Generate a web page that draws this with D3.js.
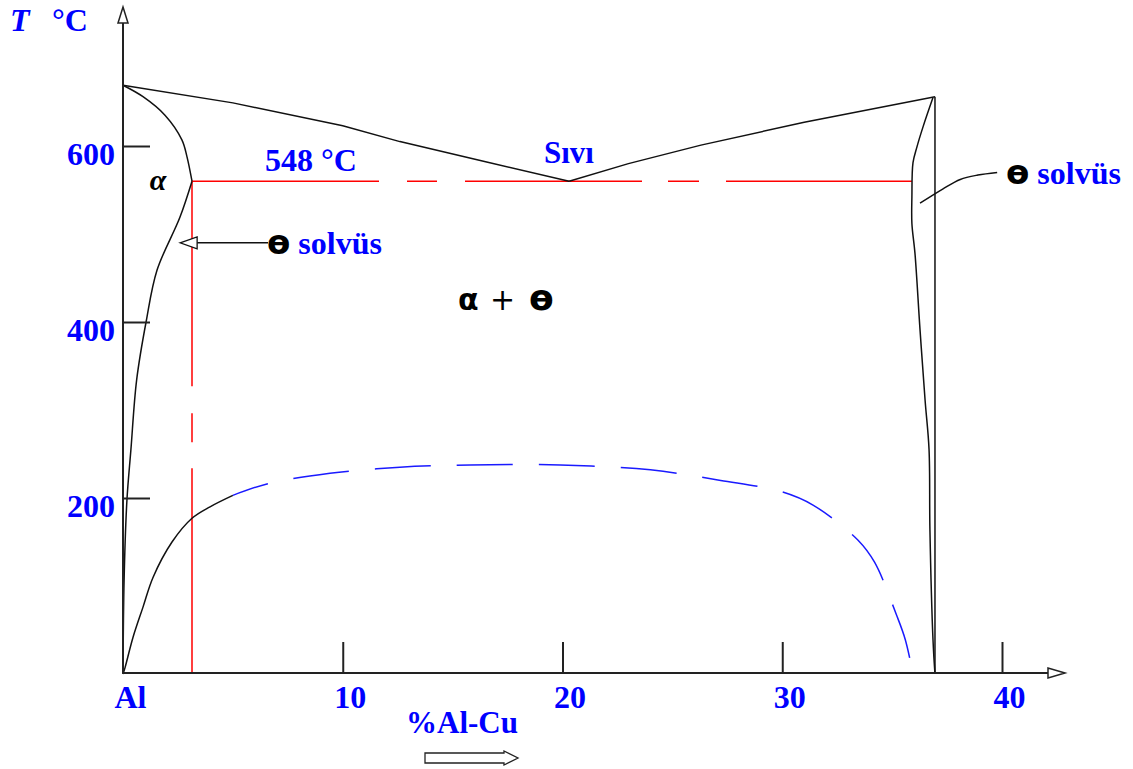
<!DOCTYPE html>
<html>
<head>
<meta charset="utf-8">
<script src="https://cdn.jsdelivr.net/npm/d3@7"></script>
<style>
  body { margin: 0; background: #fff; }
  .blue { fill: #0000ff; font-family: "Liberation Serif", serif; font-weight: bold; }
  .greek { fill: #000; font-family: "DejaVu Sans", sans-serif; font-weight: bold; }
</style>
</head>
<body>
<svg id="chart" width="1133" height="769"></svg>
<script>
// composition in % Cu, temperature in °C
const xTicks = [0, 10, 20, 30, 40];
const xTickLabels = ["Al", "10", "20", "30", "40"];
const yTicks = [200, 400, 600];

const liquidusAlpha = [[0, 669], [5, 649], [10, 623], [12.6, 605], [16.5, 582], [20.3, 560]];
const liquidusTheta = [[20.3, 560], [23, 580], [26.3, 601], [31, 627], [36.95, 656]];
const solidusAlpha = [[0, 669], [0.91, 656], [1.91, 635], [2.68, 607], [2.91, 588], [3.14, 560]];
const solvusAlpha = [[3.14, 560], [2.59, 519], [1.55, 459], [1.05, 400], [0.62, 334], [0.36, 255], [0.18, 198], [0.05, 107], [0, 0]];
const thetaSolvus = [[36.86, 655], [36.41, 622], [36.13, 599], [35.95, 581], [35.9, 542], [35.9, 512], [36.04, 478], [36.27, 391], [36.5, 311], [36.68, 255], [36.72, 164], [36.86, 39], [36.95, 0]];
const thetaBoundary = [[36.95, 656], [36.95, 0]];
const gpSolid = [[0, 0], [0.09, 7], [0.46, 42], [0.91, 76], [1.37, 110], [2.23, 150], [3.14, 177], [3.96, 190], [5.0, 203]];
const gpDashed = [[5.0, 203], [6.55, 216], [9.42, 228], [12.6, 235], [15.8, 237.5], [19.9, 237.5], [24.0, 232], [27.2, 220], [30.0, 207], [31.4, 192], [33.45, 152], [34.2, 127], [35.2, 67], [35.6, 39], [35.95, 0]];
const eutecticT = 560;
const eutecticStart = 3.14;
const eutecticEnd = 35.9;

const svg = d3.select("#chart");
const x = d3.scaleLinear().domain([0, 40]).range([123, 1002]);
const y = d3.scaleLinear().domain([0, 600]).range([674, 146]);

const line = d3.line().x(d => x(d[0])).y(d => y(d[1]));
const smooth = d3.line().x(d => x(d[0])).y(d => y(d[1])).curve(d3.curveCatmullRom);

// red eutectic lines
svg.append("line")
    .attr("x1", x(eutecticStart)).attr("x2", x(eutecticEnd))
    .attr("y1", y(eutecticT)).attr("y2", y(eutecticT))
    .attr("stroke", "#ff0000").attr("stroke-width", 1.5)
    .attr("stroke-dasharray", "187,28,30,28,177,26,31,27,200");
svg.append("line")
    .attr("x1", x(eutecticStart)).attr("x2", x(eutecticStart))
    .attr("y1", y(eutecticT)).attr("y2", y(0))
    .attr("stroke", "#ff0000").attr("stroke-width", 1.5)
    .attr("stroke-dasharray", "205,27,29,26,220");

// phase boundaries
[liquidusAlpha, liquidusTheta, thetaBoundary].forEach(d => {
    svg.append("path").attr("d", line(d))
        .attr("fill", "none").attr("stroke", "#111").attr("stroke-width", 1.5);
});
[solidusAlpha, solvusAlpha, thetaSolvus, gpSolid].forEach(d => {
    svg.append("path").attr("d", smooth(d))
        .attr("fill", "none").attr("stroke", "#111").attr("stroke-width", 1.5);
});
svg.append("path").attr("d", smooth(gpDashed))
    .attr("fill", "none").attr("stroke", "#1a1aff").attr("stroke-width", 1.5)
    .attr("stroke-dasharray", "56,26").attr("stroke-dashoffset", 19);

// axes
const xAxis = svg.append("g")
    .attr("transform", `translate(0,${y(0) - 1})`)
    .call(d3.axisBottom(x).tickValues(xTicks).tickSizeInner(-31).tickSizeOuter(0)
        .tickFormat((d, i) => xTickLabels[i]));
xAxis.select(".domain").remove();
xAxis.selectAll(".tick line").attr("stroke", "#222").attr("stroke-width", 2);
xAxis.selectAll(".tick text").attr("class", "blue").attr("font-size", 32)
    .attr("y", 35).attr("dy", null).attr("x", 7);
xAxis.selectAll(".tick").filter(d => d === 0).select("line").remove();

const yAxis = svg.append("g")
    .attr("transform", `translate(${x(0)},0)`)
    .call(d3.axisLeft(y).tickValues(yTicks).tickSizeInner(-27).tickSizeOuter(0));
yAxis.select(".domain").remove();
yAxis.selectAll(".tick line").attr("stroke", "#222").attr("stroke-width", 2);
yAxis.selectAll(".tick text").attr("class", "blue").attr("font-size", 32)
    .attr("x", -8).attr("dy", null).attr("y", 18);

// axis lines with hollow arrow heads
const x0 = x(0), y0 = y(0) - 1;
svg.append("line").attr("x1", x0).attr("x2", x0).attr("y1", 23).attr("y2", y0)
    .attr("stroke", "#222").attr("stroke-width", 2);
svg.append("line").attr("x1", x0).attr("x2", 1048).attr("y1", y0).attr("y2", y0)
    .attr("stroke", "#222").attr("stroke-width", 2);
svg.append("polygon").attr("points", `${x0},7 ${x0 + 5},23 ${x0 - 5},23`)
    .attr("fill", "#fff").attr("stroke", "#222").attr("stroke-width", 1.5);
svg.append("polygon").attr("points", `1065,${y0} 1048,${y0 - 5} 1048,${y0 + 5}`)
    .attr("fill", "#fff").attr("stroke", "#222").attr("stroke-width", 1.5);

// axis titles
const tTitle = svg.append("text").attr("class", "blue").attr("x", 10).attr("y", 31).attr("font-size", 32);
tTitle.append("tspan").attr("font-style", "italic").text("T");
tTitle.append("tspan").attr("x", 52).text("°C");

svg.append("text").attr("class", "blue").attr("x", 462).attr("y", 733)
    .attr("font-size", 31).attr("text-anchor", "middle").text("%Al-Cu");
svg.append("polygon")
    .attr("points", "425,753 504,753 504,751 518,758 504,765 504,763 425,763")
    .attr("fill", "#fff").attr("stroke", "#222").attr("stroke-width", 1.3);

// region labels
svg.append("text").attr("class", "blue").attr("x", 265).attr("y", 171)
    .attr("font-size", 32).text("548 °C");
svg.append("text").attr("class", "blue").attr("x", 569).attr("y", 163)
    .attr("font-size", 31).attr("text-anchor", "middle").text("Sıvı");
svg.append("text").attr("x", 158).attr("y", 190)
    .attr("font-family", "Liberation Serif, serif").attr("font-weight", "bold").attr("font-style", "italic")
    .attr("font-size", 30).attr("text-anchor", "middle").text("α");

const mix = svg.append("text").attr("x", 458).attr("y", 310)
    .attr("font-family", "DejaVu Sans, sans-serif").attr("font-size", 30).attr("fill", "#000");
mix.append("tspan").attr("font-weight", "bold").text("α");
mix.append("tspan").attr("x", 490).text("+");
mix.append("tspan").attr("x", 529).attr("font-weight", "bold").attr("font-size", 36).text("ɵ");

// θ solvus annotations
const tipA = [2.6, 490];
svg.append("line").attr("x1", 268).attr("x2", x(tipA[0]) + 17)
    .attr("y1", y(tipA[1])).attr("y2", y(tipA[1]))
    .attr("stroke", "#111").attr("stroke-width", 1.5);
svg.append("polygon")
    .attr("points", `${x(tipA[0])},${y(tipA[1])} ${x(tipA[0]) + 17},${y(tipA[1]) - 6} ${x(tipA[0]) + 17},${y(tipA[1]) + 6}`)
    .attr("fill", "#fff").attr("stroke", "#111").attr("stroke-width", 1.3);

const leaderB = [[39.78, 570], [38.9, 567], [38.1, 562], [37.3, 551], [36.27, 535]];
svg.append("path").attr("d", smooth(leaderB))
    .attr("fill", "none").attr("stroke", "#111").attr("stroke-width", 1.5);

function solvusLabel(px, py) {
    const t = svg.append("text").attr("x", px).attr("y", py).attr("font-size", 32);
    t.append("tspan").attr("class", "greek").attr("font-size", 34).text("ɵ");
    t.append("tspan").attr("class", "blue").attr("dx", 8).text("solvüs");
}
solvusLabel(267, 254);
solvusLabel(1006, 184);
</script>
</body>
</html>
